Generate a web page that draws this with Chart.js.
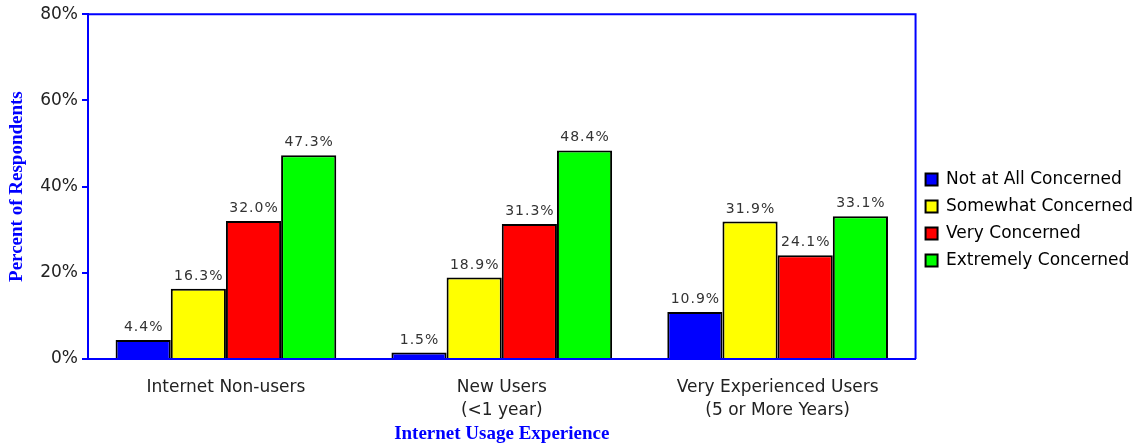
<!DOCTYPE html>
<html>
<head>
<meta charset="utf-8">
<script src="https://cdn.jsdelivr.net/npm/chart.js@4"></script>
<style>
  html, body { margin: 0; padding: 0; background: #ffffff; }
  #wrap { width: 1140px; height: 446px; position: relative; }
</style>
</head>
<body>
<div id="wrap"><canvas id="c" width="1140" height="446"></canvas></div>
<script>
const categories = ["Internet Non-users", ["New Users", "(<1 year)"], ["Very Experienced Users", "(5 or More Years)"]];
const seriesNames = ["Not at All Concerned", "Somewhat Concerned", "Very Concerned", "Extremely Concerned"];
const notAtAll = [4.4, 1.5, 10.9];
const somewhat = [16.3, 18.9, 31.9];
const very = [32.0, 31.3, 24.1];
const extremely = [47.3, 48.4, 33.1];
const yTicks = [0, 20, 40, 60, 80];
const colors = ["#0000ff", "#ffff00", "#ff0000", "#00ff00"];

const seriesValues = [notAtAll, somewhat, very, extremely];
const datasets = seriesNames.map((name, i) => ({
  label: name,
  data: seriesValues[i],
  backgroundColor: colors[i],
  borderColor: "#000000",
  borderWidth: 2,
  categoryPercentage: 0.8,
  barPercentage: 1.0
}));

const frame = {
  id: "frame",
  beforeDatasetsDraw(chart) {
    const a = chart.chartArea, ctx = chart.ctx;
    ctx.save();
    ctx.strokeStyle = "#0000ff";
    ctx.lineWidth = 2;
    ctx.beginPath();
    ctx.moveTo(a.left, a.top);
    ctx.lineTo(a.right, a.top);
    ctx.lineTo(a.right, a.bottom);
    ctx.stroke();
    ctx.restore();
  }
};

const valueLabels = {
  id: "valueLabels",
  afterDatasetsDraw(chart) {
    const ctx = chart.ctx;
    ctx.save();
    ctx.font = "14px 'DejaVu Sans'";
    ctx.fillStyle = "#333333";
    ctx.textAlign = "center";
    ctx.textBaseline = "alphabetic";
    if ("letterSpacing" in ctx) ctx.letterSpacing = "1px";
    chart.data.datasets.forEach((ds, di) => {
      const meta = chart.getDatasetMeta(di);
      meta.data.forEach((el, i) => {
        ctx.fillText(ds.data[i].toFixed(1) + "%", el.x + 0.5, el.y - 9);
      });
    });
    ctx.restore();
  }
};

new Chart(document.getElementById("c"), {
  type: "bar",
  data: { labels: categories, datasets: datasets },
  options: {
    responsive: false,
    animation: false,
    layout: { padding: { top: 13, bottom: 19, left: 0, right: -3 } },
    plugins: {
      legend: {
        position: "right",
        labels: {
          boxWidth: 12,
          boxHeight: 12,
          padding: 10,
          color: "#000000",
          font: { family: "'DejaVu Sans'", size: 17 }
        }
      },
      tooltip: { enabled: false }
    },
    scales: {
      x: {
        grid: { drawOnChartArea: false, drawTicks: false },
        border: { color: "#0000ff", width: 2 },
        ticks: {
          color: "#222222",
          padding: 18,
          maxRotation: 0,
          autoSkip: false,
          font: { family: "'DejaVu Sans'", size: 17, lineHeight: 1.3 }
        },
        title: {
          display: true,
          text: "Internet Usage Experience",
          color: "#0000ff",
          font: { family: "'Liberation Serif'", size: 19, weight: "bold" },
          padding: { top: 0, bottom: -18 }
        },
        afterFit(scale) { scale.height = 68; }
      },
      y: {
        min: 0,
        max: 80,
        afterBuildTicks(scale) { scale.ticks = yTicks.map(v => ({ value: v })); },
        grid: { drawOnChartArea: false, drawTicks: true, tickLength: 6, color: "#0000ff", lineWidth: 2 },
        border: { color: "#0000ff", width: 2 },
        ticks: {
          color: "#222222",
          padding: 4,
          font: { family: "'DejaVu Sans'", size: 17 },
          callback: v => v + "%"
        },
        title: {
          display: true,
          text: "Percent of Respondents",
          color: "#0000ff",
          font: { family: "'Liberation Serif'", size: 19, weight: "bold" },
          padding: { top: 6, bottom: 0 }
        },
        afterFit(scale) { scale.width = 88; }
      }
    }
  },
  plugins: [frame, valueLabels]
});
</script>
</body>
</html>
